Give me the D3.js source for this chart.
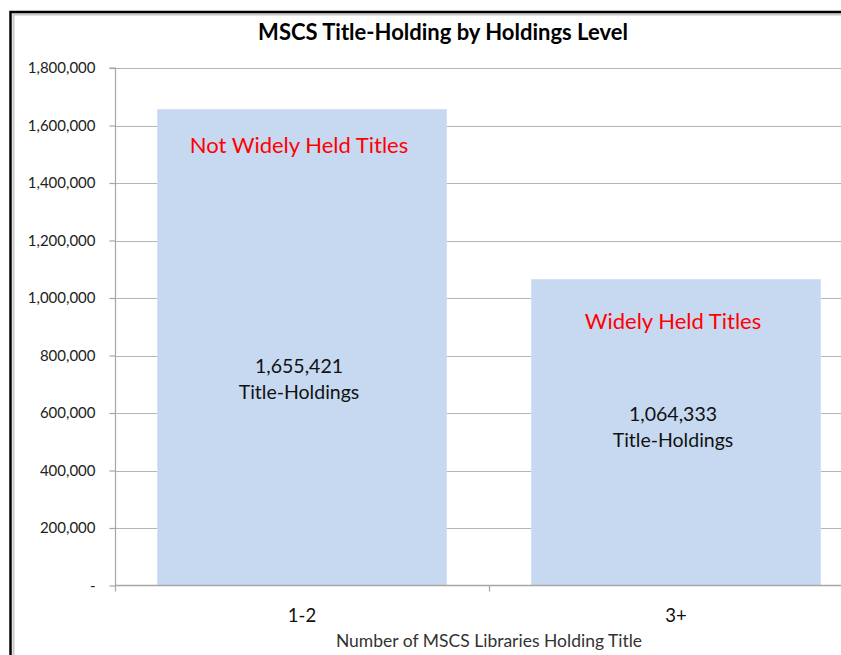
<!DOCTYPE html>
<html lang="en">
<head>
    <meta charset="UTF-8">
    <script src="https://d3js.org/d3.v7.min.js" charset="utf-8"></script>
    <title>MSCS Title-Holding</title>
    <style>
        body { margin: 0; background: white; overflow: hidden; }
        svg { display: block; font-family: Lato, "Open Sans", sans-serif; }
    </style>
</head>
<body>
    <div class="chart"></div>
    <script>
        const svgWidth = 841;
        const svgHeight = 655;

        // data
        const categories = ["1-2", "3+"];
        const holdings = [1655421, 1064333];
        const groupLabels = ["Not Widely Held Titles", "Widely Held Titles"];
        const yTicks = [0, 200000, 400000, 600000, 800000, 1000000, 1200000, 1400000, 1600000, 1800000];

        // where the labels sit inside each bar (px below bar top / value on axis)
        const groupOffset = [35, 41];
        const valueAt = [763000, 597000];

        const svg = d3.select(".chart").append("svg")
            .attr("width", svgWidth)
            .attr("height", svgHeight);

        // plot area (runs off the right edge like the original)
        const plot = { left: 115, right: 863, top: 68, bottom: 585.5 };

        const x = d3.scaleBand()
            .domain(categories)
            .range([plot.left, plot.right])
            .paddingInner(0.227)
            .paddingOuter(0.1135);

        const y = d3.scaleLinear()
            .domain([0, 1800000])
            .range([plot.bottom, plot.top]);

        // outer frame, only top and left edges are in view
        svg.append("path")
            .attr("d", `M13.5,${svgHeight}V14.5H${svgWidth}`)
            .attr("fill", "none")
            .attr("stroke", "#c8c8c8")
            .attr("stroke-width", 2);
        svg.append("path")
            .attr("d", `M10.5,${svgHeight}V12H${svgWidth}`)
            .attr("fill", "none")
            .attr("stroke", "black")
            .attr("stroke-width", 2.5);

        // gridlines
        svg.append("g")
            .selectAll("line")
            .data(yTicks.filter(d => d > 0))
            .join("line")
            .attr("x1", plot.left).attr("x2", plot.right)
            .attr("y1", d => Math.round(y(d)) + 0.5)
            .attr("y2", d => Math.round(y(d)) + 0.5)
            .attr("stroke", "#b4b4b4")
            .attr("stroke-width", 1.2);

        // bars
        svg.append("g")
            .selectAll("rect")
            .data(holdings)
            .join("rect")
            .attr("x", (d, i) => x(categories[i]))
            .attr("y", d => y(d))
            .attr("width", x.bandwidth())
            .attr("height", d => y(0) - y(d))
            .attr("fill", "#c6d9f1")
            .attr("stroke", "#d4e1f3")
            .attr("stroke-width", 1);

        // y axis
        const yAxis = d3.axisLeft(y)
            .tickValues(yTicks)
            .tickSize(6)
            .tickPadding(14)
            .tickFormat(d => d === 0 ? "-" : d3.format(",")(d));
        const yg = svg.append("g")
            .attr("transform", `translate(${plot.left + 0.5},0)`)
            .call(yAxis);
        yg.select(".domain").attr("stroke", "#a6a6a6").attr("stroke-width", 1.2)
            .attr("d", `M-6,${plot.top}H0V${plot.bottom + 6}`);
        yg.selectAll(".tick line").attr("stroke", "#a6a6a6").attr("stroke-width", 1.2);
        yg.selectAll(".tick text")
            .attr("font-size", 15)
            .attr("fill", "#222")
            .attr("font-family", "Lato, sans-serif");

        // x axis
        const xg = svg.append("g")
            .attr("transform", `translate(0,${plot.bottom})`);
        xg.append("line")
            .attr("x1", plot.left).attr("x2", plot.right)
            .attr("stroke", "#a6a6a6").attr("stroke-width", 1.5);
        xg.selectAll(".xtick")
            .data(categories)
            .join("line")
            .attr("class", "xtick")
            .attr("x1", d => x(d) + x.bandwidth() + x.step() * 0.1135 + 0.5)
            .attr("x2", d => x(d) + x.bandwidth() + x.step() * 0.1135 + 0.5)
            .attr("y1", 0).attr("y2", 6)
            .attr("stroke", "#a6a6a6").attr("stroke-width", 1.2);
        xg.selectAll(".xlabel")
            .data(categories)
            .join("text")
            .attr("class", "xlabel")
            .attr("x", d => x(d) + x.bandwidth() / 2)
            .attr("y", 36)
            .attr("text-anchor", "middle")
            .attr("font-size", 18.5)
            .attr("fill", "#111")
            .text(d => d);

        // axis title
        svg.append("text")
            .attr("x", (plot.left + plot.right) / 2)
            .attr("y", 647)
            .attr("text-anchor", "middle")
            .attr("font-size", 17.5)
            .attr("fill", "#333")
            .text("Number of MSCS Libraries Holding Title");

        // chart title
        svg.append("text")
            .attr("x", 443)
            .attr("y", 40)
            .attr("text-anchor", "middle")
            .attr("font-size", 22)
            .attr("font-weight", "bold")
            .attr("fill", "#000")
            .text("MSCS Title-Holding by Holdings Level");

        // annotations on bars
        const notes = svg.append("g");
        const cx = i => x(categories[i]) + x.bandwidth() / 2 - 3;

        notes.selectAll(".group")
            .data(groupLabels)
            .join("text")
            .attr("class", "group")
            .attr("x", (d, i) => cx(i))
            .attr("y", (d, i) => y(holdings[i]) + groupOffset[i] + 8)
            .attr("text-anchor", "middle")
            .attr("font-size", 22)
            .attr("fill", "#ff0000")
            .text(d => d);

        notes.selectAll(".value")
            .data(holdings)
            .join("text")
            .attr("class", "value")
            .attr("x", (d, i) => cx(i))
            .attr("y", (d, i) => y(valueAt[i]) + 7)
            .attr("text-anchor", "middle")
            .attr("font-size", 19.5)
            .attr("fill", "#111")
            .call(t => t.append("tspan").text(d => d3.format(",")(d)))
            .call(t => t.append("tspan")
                .attr("x", (d, i) => cx(i))
                .attr("dy", 26)
                .text("Title-Holdings"));
    </script>
</body>
</html>
